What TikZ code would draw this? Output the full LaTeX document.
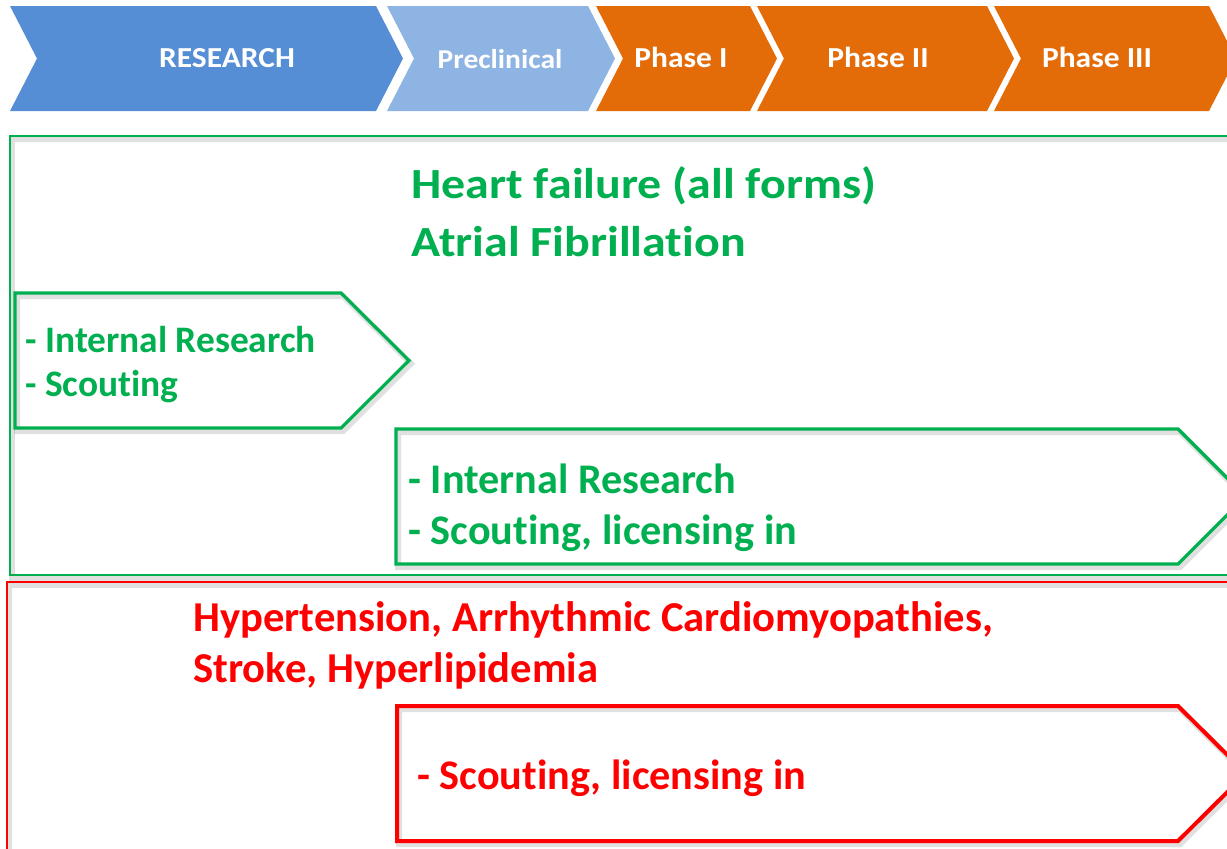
\documentclass[tikz,border=0pt]{standalone}
\usepackage{fontspec}
\setmainfont{Carlito}[Ligatures=NoCommon]
\newfontfamily\headfont{Carlito}[FakeStretch=1.115, Ligatures=NoCommon]
\newfontfamily\phasefont{Carlito}[FakeStretch=1.085, Ligatures=NoCommon]
\definecolor{resblue}{HTML}{558ED5}
\definecolor{preblue}{HTML}{8EB4E3}
\definecolor{phorange}{HTML}{E36C09}
\definecolor{okgreen}{HTML}{00B050}
\definecolor{alertred}{HTML}{FF0000}
\tikzset{
  phasetext/.style={text=white, font=\phasefont\bfseries\fontsize{14.5}{17}\selectfont, anchor=base, inner sep=0pt},
  greentext/.style={text=okgreen, font=\headfont\bfseries\fontsize{21.5}{26}\selectfont, anchor=base west, inner sep=0pt},
  redtext/.style={text=alertred, font=\bfseries\fontsize{21.3}{26}\selectfont, anchor=base west, inner sep=0pt},
  smalltext/.style={text=okgreen, font=\bfseries\fontsize{18.7}{22}\selectfont, anchor=base west, inner sep=0pt},
  boxtext/.style={font=\bfseries\fontsize{21.1}{25}\selectfont, anchor=base west, inner sep=0pt},
  greenframe/.style={draw=okgreen, line width=1pt},
  redframe/.style={draw=alertred, line width=1pt},
  greenchev/.style={draw=okgreen, line width=1.6pt, line join=miter},
  redchev/.style={draw=alertred, line width=2pt, line join=miter},
  softshadow/.style={draw=black, draw opacity=0.12, line width=3pt, shift={(2,3)}},
}
\begin{document}
\begin{tikzpicture}[x=0.5pt, y=-0.5pt]
\useasboundingbox (0,0) rectangle (1227,848);
\clip (0,0) rectangle (1227,848);
\fill[white] (0,0) rectangle (1227,848);
% phase chevrons
\fill[resblue] (10,6) -- (376,6) -- (403,58.5) -- (376,111) -- (10,111) -- (37,58.5) -- cycle;
\fill[preblue] (387,6) -- (588,6) -- (615,58.5) -- (588,111) -- (387,111) -- (414,58.5) -- cycle;
\fill[phorange] (596,6) -- (750,6) -- (777,58.5) -- (750,111) -- (596,111) -- (623,58.5) -- cycle;
\fill[phorange] (757,6) -- (987,6) -- (1014,58.5) -- (987,111) -- (757,111) -- (784,58.5) -- cycle;
\fill[phorange] (994,6) -- (1209,6) -- (1236,58.5) -- (1209,111) -- (994,111) -- (1021,58.5) -- cycle;
\node[phasetext] (research) at (227,67) {RESEARCH};
\node[phasetext, font=\phasefont\bfseries\fontsize{13.6}{16}\selectfont] (preclin) at (500,68) {Preclinical};
\node[phasetext] (ph1) at (681,67) {Phase I};
\node[phasetext] (ph2) at (878,67) {Phase II};
\node[phasetext] (ph3) at (1097,67) {Phase III};
% green area
\draw[softshadow] (10,136) rectangle (1240,575);
\draw[greenframe] (10,136) rectangle (1240,575);
\node[greentext] (hf) at (411,198) {Heart failure (all forms)};
\node[greentext] (af) at (411,256) {Atrial Fibrillation};
\draw[softshadow] (15,293) -- (341,293) -- (409,360.5) -- (341,428) -- (15,428) -- cycle;
\draw[greenchev] (15,293) -- (341,293) -- (409,360.5) -- (341,428) -- (15,428) -- cycle;
\node[smalltext] (g1a) at (25,352) {- Internal Research};
\node[smalltext] (g1b) at (25,396) {- Scouting};
\draw[softshadow] (396,429) -- (1178,429) -- (1245.5,496.5) -- (1178,564) -- (396,564) -- cycle;
\draw[greenchev] (396,429) -- (1178,429) -- (1245.5,496.5) -- (1178,564) -- (396,564) -- cycle;
\node[boxtext, text=okgreen] (g2a) at (408,493) {- Internal Research};
\node[boxtext, text=okgreen] (g2b) at (408,544) {- Scouting, licensing in};
% red area
\draw[softshadow] (7,582) rectangle (1240,870);
\draw[redframe] (7,582) rectangle (1240,870);
\node[redtext] (ht) at (193,631) {Hypertension, Arrhythmic Cardiomyopathies,};
\node[redtext] (st) at (193,682) {Stroke, Hyperlipidemia};
\draw[softshadow] (397,706) -- (1178,706) -- (1246,773.5) -- (1178,841) -- (397,841) -- cycle;
\draw[redchev] (397,706) -- (1178,706) -- (1246,773.5) -- (1178,841) -- (397,841) -- cycle;
\node[boxtext, text=alertred] (r1) at (417,789) {- Scouting, licensing in};
\end{tikzpicture}
\end{document}
